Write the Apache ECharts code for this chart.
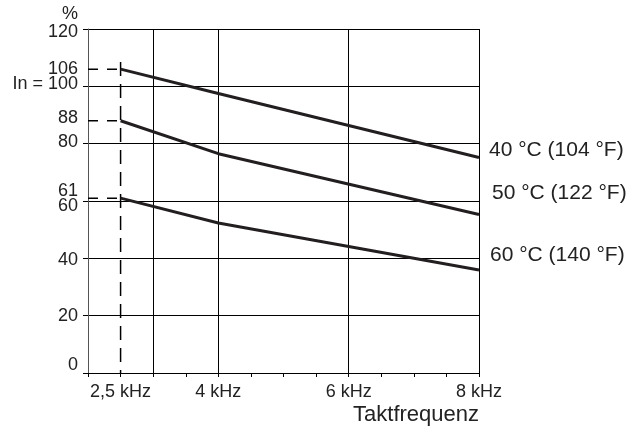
<!DOCTYPE html>
<html>
<head>
<meta charset="utf-8">
<script src="https://cdn.jsdelivr.net/npm/echarts@6/dist/echarts.min.js"></script>
<style>
  html, body { margin: 0; background: #fff; }
  #chart { width: 637px; height: 430px; }
</style>
</head>
<body>
<div id="chart"></div>
<script>
  // Taktfrequenz in kHz, Dauerstrom in % von In
  var freq = [2.5, 4, 8];
  var current40 = [106, 97.5, 75.2];
  var current50 = [88, 76.5, 55.3];
  var current60 = [61, 52.3, 35.9];
  var seriesNames = ['40 °C (104 °F)', '50 °C (122 °F)', '60 °C (140 °F)'];

  var yLabelValues = [0, 20, 40, 60, 61, 80, 88, 100, 106, 120];
  var xLabelValues = [2.5, 4, 6, 8];
  var xGridValues = [3, 4, 6, 8];
  var markLevels = [106, 88, 61];
  var markFreq = 2.5;
  var dashTop = 108.5;

  var font = 'Liberation Sans, Arial, sans-serif';
  var ink = '#231f20';

  // nudges for crowded y labels (rich style per value)
  var yLabelStyle = { 0: 'up8', 60: 'dn5', 61: 'up7', 88: 'up3', 100: 'up2', 80: 'up2', 120: 'dn3', 40: 'dn2' };

  function pairs(xs, ys) {
    var out = [];
    for (var i = 0; i < xs.length; i++) out.push([xs[i], ys[i]]);
    return out;
  }

  function labelStyle(pad) {
    return { fontFamily: font, fontSize: 18, color: '#222', padding: pad };
  }

  var chart = echarts.init(document.getElementById('chart'));

  var series = [];
  markLevels.forEach(function (v) {
    series.push({
      type: 'line',
      data: [[2, v], [markFreq, v]],
      symbol: 'none',
      silent: true,
      lineStyle: { color: '#000', width: 1.5, type: [10, 9] }
    });
  });
  series.push({
    type: 'line',
    data: [[markFreq, dashTop], [markFreq, 0]],
    symbol: 'none',
    silent: true,
    lineStyle: { color: '#000', width: 1.5, type: [14, 8] }
  });

  var curves = [current40, current50, current60];
  var labelOffsets = [[10, -7], [13, -21], [11, -15]];
  curves.forEach(function (vals, i) {
    series.push({
      name: seriesNames[i],
      type: 'line',
      data: pairs(freq, vals),
      symbol: 'none',
      lineStyle: { color: ink, width: 3 },
      endLabel: {
        show: true,
        distance: 0,
        offset: labelOffsets[i],
        formatter: seriesNames[i],
        fontFamily: font,
        fontSize: 21,
        color: '#222'
      }
    });
  });

  chart.setOption({
    backgroundColor: '#fff',
    animation: false,
    grid: { left: 88, right: 158, top: 29, bottom: 57 },
    xAxis: [{
      type: 'value',
      min: 2,
      max: 8,
      interval: 0.5,
      name: 'Taktfrequenz',
      nameLocation: 'end',
      nameGap: 0,
      nameTextStyle: {
        fontFamily: font, fontSize: 22, color: '#222',
        align: 'right', verticalAlign: 'top', padding: [31, 0, 0, 0]
      },
      axisLine: { lineStyle: { color: '#000', width: 1 } },
      axisTick: { show: true, length: 4, lineStyle: { color: '#000' } },
      splitLine: { show: false },
      axisLabel: {
        customValues: xLabelValues,
        margin: 10,
        fontFamily: font,
        fontSize: 18,
        color: '#222',
        formatter: function (v) { return String(v).replace('.', ',') + ' kHz'; }
      }
    }, {
      type: 'value',
      min: 2,
      max: 8,
      position: 'bottom',
      axisLine: { show: false },
      axisTick: { show: false, customValues: xGridValues },
      axisLabel: { show: false },
      splitLine: { show: true, lineStyle: { color: '#000', width: 1 } }
    }],
    yAxis: {
      type: 'value',
      min: 0,
      max: 120,
      interval: 20,
      name: '%',
      nameLocation: 'end',
      nameGap: 6,
      nameTextStyle: {
        fontFamily: font, fontSize: 18, color: '#222',
        align: 'right', padding: [0, 10, 0, 0]
      },
      axisLine: { show: true, lineStyle: { color: '#555', width: 1 } },
      axisTick: { show: true, length: 5, lineStyle: { color: '#000' } },
      splitLine: { show: true, lineStyle: { color: '#000', width: 1 } },
      axisLabel: {
        customValues: yLabelValues,
        margin: 10,
        fontFamily: font,
        fontSize: 18,
        color: '#222',
        formatter: function (v) {
          var txt = v === 100 ? 'In = 100' : String(v);
          var st = yLabelStyle[v];
          return st ? '{' + st + '|' + txt + '}' : txt;
        },
        rich: {
          up8: labelStyle([0, 0, 16, 0]),
          up7: labelStyle([0, 0, 14, 0]),
          up3: labelStyle([0, 0, 6, 0]),
          up2: labelStyle([0, 0, 4, 0]),
          dn5: labelStyle([10, 0, 0, 0]),
          dn3: labelStyle([6, 0, 0, 0]),
          dn2: labelStyle([4, 0, 0, 0])
        }
      }
    },
    series: series
  });
</script>
</body>
</html>
